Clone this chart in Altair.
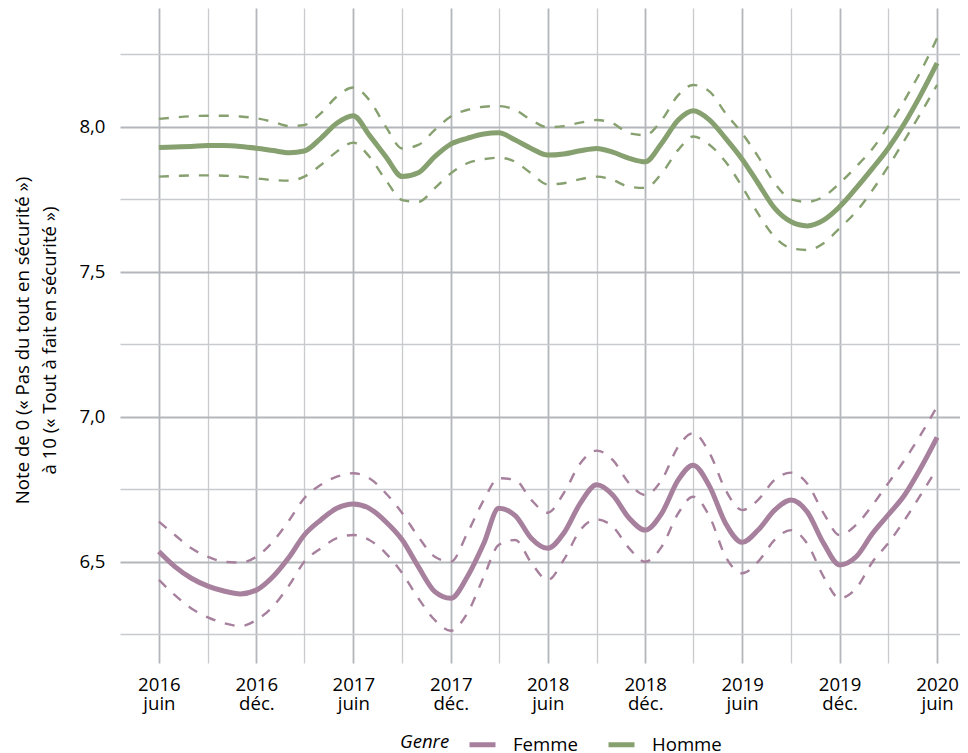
import altair as alt
import pandas as pd

# Monthly dates (June 2016 -> June 2020)
dates = [d.strftime("%Y-%m-%d") for d in pd.date_range("2016-06-01", "2020-06-01", freq="MS")]

homme_mean = [7.929, 7.931, 7.933, 7.936, 7.936, 7.933, 7.927, 7.919, 7.911, 7.917,
              7.961, 8.013, 8.039, 7.972, 7.898, 7.829, 7.842, 7.898, 7.941, 7.961,
              7.976, 7.980, 7.955, 7.926, 7.903, 7.907, 7.918, 7.926, 7.913, 7.892,
              7.880, 7.944, 8.024, 8.056, 8.024, 7.961, 7.889, 7.806, 7.720, 7.673,
              7.659, 7.679, 7.725, 7.789, 7.858, 7.926, 8.013, 8.110, 8.220]
homme_upper = [8.028, 8.033, 8.037, 8.039, 8.039, 8.036, 8.030, 8.018, 8.003, 8.007,
               8.047, 8.105, 8.136, 8.093, 8.001, 7.926, 7.938, 7.990, 8.036, 8.059,
               8.070, 8.072, 8.059, 8.024, 7.999, 8.003, 8.015, 8.024, 8.013, 7.978,
               7.972, 8.024, 8.110, 8.145, 8.122, 8.047, 7.978, 7.898, 7.806, 7.751,
               7.742, 7.760, 7.806, 7.863, 7.926, 8.001, 8.093, 8.191, 8.306]
homme_lower = [7.829, 7.831, 7.833, 7.833, 7.832, 7.829, 7.823, 7.817, 7.815, 7.829,
               7.869, 7.915, 7.946, 7.898, 7.817, 7.748, 7.742, 7.789, 7.840, 7.875,
               7.889, 7.894, 7.880, 7.840, 7.802, 7.806, 7.820, 7.829, 7.817, 7.794,
               7.790, 7.840, 7.921, 7.967, 7.938, 7.880, 7.794, 7.701, 7.621, 7.582,
               7.576, 7.599, 7.651, 7.708, 7.783, 7.863, 7.955, 8.047, 8.145]

femme_mean = [6.536, 6.484, 6.444, 6.417, 6.400, 6.390, 6.403, 6.449, 6.518, 6.593,
              6.645, 6.685, 6.700, 6.685, 6.639, 6.576, 6.484, 6.398, 6.375, 6.449,
              6.564, 6.685, 6.660, 6.582, 6.547, 6.599, 6.702, 6.766, 6.731, 6.651,
              6.610, 6.668, 6.783, 6.834, 6.760, 6.633, 6.568, 6.610, 6.679, 6.714,
              6.673, 6.564, 6.490, 6.518, 6.599, 6.662, 6.731, 6.823, 6.930]
femme_upper = [6.639, 6.593, 6.547, 6.518, 6.501, 6.498, 6.518, 6.570, 6.645, 6.720,
               6.766, 6.794, 6.806, 6.789, 6.737, 6.668, 6.587, 6.518, 6.501, 6.599,
               6.714, 6.789, 6.783, 6.714, 6.670, 6.737, 6.840, 6.884, 6.852, 6.771,
               6.731, 6.783, 6.898, 6.944, 6.875, 6.748, 6.679, 6.714, 6.783, 6.808,
               6.771, 6.668, 6.593, 6.628, 6.697, 6.771, 6.852, 6.938, 7.036]
femme_lower = [6.438, 6.386, 6.340, 6.309, 6.289, 6.279, 6.300, 6.346, 6.421, 6.501,
               6.547, 6.582, 6.593, 6.576, 6.530, 6.461, 6.375, 6.300, 6.263, 6.323,
               6.449, 6.559, 6.576, 6.498, 6.438, 6.507, 6.610, 6.647, 6.622, 6.547,
               6.501, 6.553, 6.668, 6.725, 6.656, 6.518, 6.461, 6.501, 6.576, 6.610,
               6.564, 6.449, 6.375, 6.409, 6.501, 6.564, 6.645, 6.731, 6.823]

genres = ["Femme", "Homme"]
colors = ["#a7809d", "#87a06f"]

y_ticks = [6.25, 6.5, 6.75, 7.0, 7.25, 7.5, 7.75, 8.0, 8.25]
x_tick_months = [(2016, 6), (2016, 9), (2016, 12), (2017, 3), (2017, 6), (2017, 9),
                 (2017, 12), (2018, 3), (2018, 6), (2018, 9), (2018, 12), (2019, 3),
                 (2019, 6), (2019, 9), (2019, 12), (2020, 3), (2020, 6)]

df = pd.concat([
    pd.DataFrame({"date": dates, "Genre": "Femme", "mean": femme_mean,
                  "lower": femme_lower, "upper": femme_upper}),
    pd.DataFrame({"date": dates, "Genre": "Homme", "mean": homme_mean,
                  "lower": homme_lower, "upper": homme_upper}),
])

FONT = "Open Sans"
FS = 18.6
NB = "\u00a0"

x_axis = alt.Axis(
    values=[alt.DateTime(year=y, month=m, date=1, utc=True) for y, m in x_tick_months],
    labelExpr="utcmonth(datum.value) == 5 ? [utcFormat(datum.value, '%Y'), 'juin'] : "
              "(utcmonth(datum.value) == 11 ? [utcFormat(datum.value, '%Y'), 'déc.'] : '')",
    grid=True,
    gridColor={"condition": {"test": "utcmonth(datum.value) % 6 == 5", "value": "#b3b6ba"},
               "value": "#c8cacd"},
    gridWidth={"condition": {"test": "utcmonth(datum.value) % 6 == 5", "value": 1.8},
               "value": 1.3},
    domain=False, ticks=False, title=None,
    labelFont=FONT, labelFontSize=FS, labelColor="#000000",
    labelPadding=12.5, labelLineHeight=18.5, labelOverlap=False, labelFlush=False,
    labelBound=False,
)

y_axis = alt.Axis(
    values=y_ticks,
    labelExpr="round(datum.value * 4) % 2 == 0 ? replace(format(datum.value, '.1f'), '.', ',') : ''",
    grid=True,
    gridColor={"condition": {"test": "round(datum.value * 4) % 2 == 0", "value": "#b3b6ba"},
               "value": "#c8cacd"},
    gridWidth={"condition": {"test": "round(datum.value * 4) % 2 == 0", "value": 1.8},
               "value": 1.3},
    domain=False, ticks=False,
    labelFont=FONT, labelFontSize=FS, labelColor="#000000", labelPadding=15,
    labelOverlap=False,
    title=["Note de 0 (« Pas du tout en sécurité »)",
           "à 10 (« Tout à fait en sécurité »)" + NB * 5],
    titleFont=FONT, titleFontSize=FS, titleFontWeight="normal", titleColor="#000000",
    titleAngle=-90, titleAlign="center", titleBaseline="top", titleLineHeight=27,
    titleX=-107, titleY=332,
)

x_enc = alt.X("date:T", axis=x_axis,
              scale=alt.Scale(type="utc",
                              domain=[alt.DateTime(year=2016, month=3, date=20, utc=True),
                                      alt.DateTime(year=2020, month=7, date=14, utc=True)]))
y_scale = alt.Scale(domain=[6.1517, 8.4103], nice=False, zero=False)

color_enc = alt.Color(
    "Genre:N",
    scale=alt.Scale(domain=genres, range=colors),
    legend=alt.Legend(
        orient="none", legendX=280, legendY=721, direction="horizontal",
        title="Genre", titleOrient="left", titleFont=FONT, titleFontSize=FS,
        titleFontStyle="italic", titleFontWeight="normal", titleColor="#000000",
        titlePadding=17, titleAnchor="middle", titleBaseline="middle",
        labelFont=FONT, labelFontSize=FS, labelColor="#000000", labelOffset=15,
        columnPadding=20, symbolType="stroke", symbolStrokeWidth=5, symbolSize=676,
    ),
)

base = alt.Chart(df)

main = base.mark_line(strokeWidth=5, interpolate="monotone").encode(
    x=x_enc, y=alt.Y("mean:Q", axis=y_axis, scale=y_scale), color=color_enc,
)
upper = base.mark_line(strokeWidth=2.4, strokeDash=[10, 10], interpolate="monotone").encode(
    x=x_enc, y=alt.Y("upper:Q", scale=y_scale), color=alt.Color("Genre:N"),
)
lower = base.mark_line(strokeWidth=2.4, strokeDash=[10, 10], interpolate="monotone").encode(
    x=x_enc, y=alt.Y("lower:Q", scale=y_scale), color=alt.Color("Genre:N"),
)

chart = alt.layer(main, upper, lower).properties(
    width=840, height=655,
    autosize=alt.AutoSizeParams(type="none"),
    padding={"left": 112, "top": 0, "right": 0, "bottom": 90},
).configure(font=FONT).configure_view(strokeWidth=0)

chart.save("out.html", embed_options={"renderer": "svg", "actions": False})
